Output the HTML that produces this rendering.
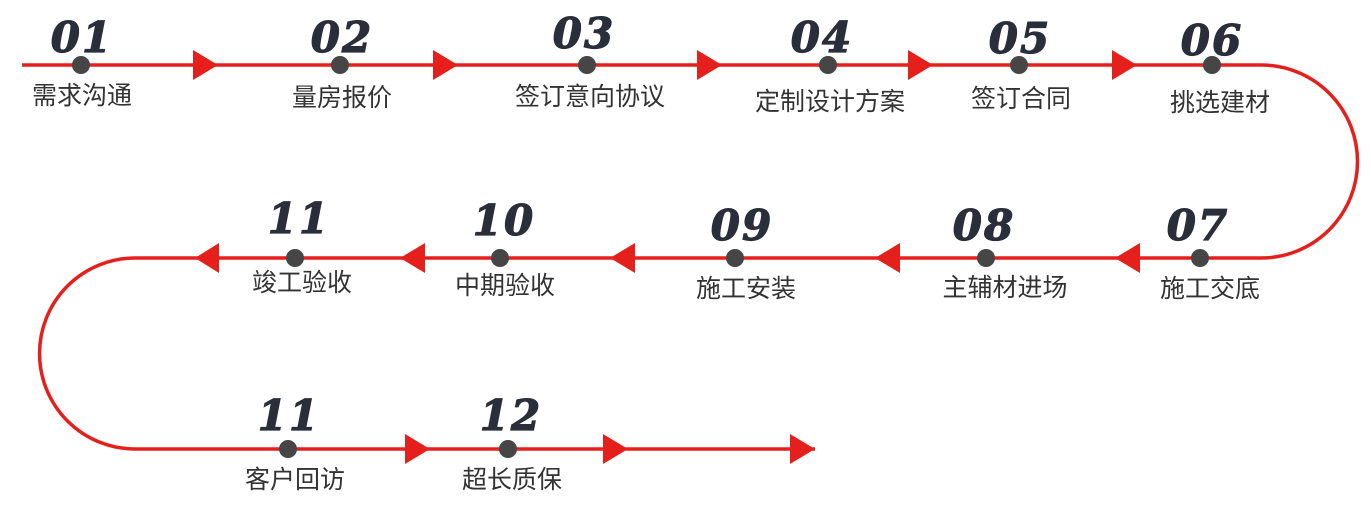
<!DOCTYPE html>
<html><head><meta charset="utf-8"><style>
html,body{margin:0;padding:0;background:#fff;width:1371px;height:507px;overflow:hidden}
.n{font-family:"DejaVu Serif",serif;font-weight:bold;font-style:italic;font-size:42px;fill:#2a2e3a;stroke:#2a2e3a;stroke-width:1.2;letter-spacing:2px}
.l{font-family:"Liberation Sans","Noto Sans CJK SC",sans-serif;font-size:25px;fill:#333}
</style></head><body>
<svg width="1371" height="507" xmlns="http://www.w3.org/2000/svg">
<path d="M22 65 H1261 A96.5 96.5 0 0 1 1261 258 H135 A95.5 95.5 0 0 0 135 449 H815" fill="none" stroke="#e5201c" stroke-width="3.5"/>
<g fill="#e5201c">
<polygon points="193,50 218,65 193,80"/>
<polygon points="433,50 458,65 433,80"/>
<polygon points="697,50 722,65 697,80"/>
<polygon points="908,50 933,65 908,80"/>
<polygon points="1112,50 1137,65 1112,80"/>
<polygon points="1140,243 1115,258 1140,273"/>
<polygon points="900,243 875,258 900,273"/>
<polygon points="635,243 610,258 635,273"/>
<polygon points="425,243 400,258 425,273"/>
<polygon points="219,243 195,258 219,273"/>
<polygon points="405,434 430,449 405,464"/>
<polygon points="603,434 628,449 603,464"/>
<polygon points="790,434 815,449 790,464"/>
</g>
<g fill="#464646">
<circle cx="81" cy="65" r="9"/><circle cx="340" cy="65" r="9"/><circle cx="587" cy="65" r="9"/><circle cx="828" cy="65" r="9"/><circle cx="1019" cy="65" r="9"/><circle cx="1212" cy="65" r="9"/>
<circle cx="1200" cy="258" r="9"/><circle cx="986" cy="258" r="9"/><circle cx="735" cy="258" r="9"/><circle cx="500" cy="258" r="9"/><circle cx="295" cy="258" r="9"/>
<circle cx="288" cy="449" r="9"/><circle cx="508" cy="449" r="9"/>
</g>
<g class="n" text-anchor="middle">
<text x="82" y="52">01</text><text x="342" y="52">02</text><text x="584" y="48">03</text><text x="822" y="52">04</text><text x="1020" y="53">05</text><text x="1212" y="55">06</text>
<text x="1198" y="240">07</text><text x="984" y="240">08</text><text x="742" y="240">09</text><text x="504" y="235">10</text><text x="299" y="233">11</text>
<text x="289" y="430">11</text><text x="511" y="430">12</text>
</g>
<g class="l" text-anchor="middle">
<text x="82" y="104">需求沟通</text><text x="342" y="106">量房报价</text><text x="590" y="105">签订意向协议</text><text x="830" y="110">定制设计方案</text><text x="1021" y="107">签订合同</text><text x="1220" y="111">挑选建材</text>
<text x="1210" y="297">施工交底</text><text x="1005" y="296">主辅材进场</text><text x="746" y="297">施工安装</text><text x="505" y="294">中期验收</text><text x="302" y="291">竣工验收</text>
<text x="295" y="488">客户回访</text><text x="512" y="488">超长质保</text>
</g>
</svg>
</body></html>
